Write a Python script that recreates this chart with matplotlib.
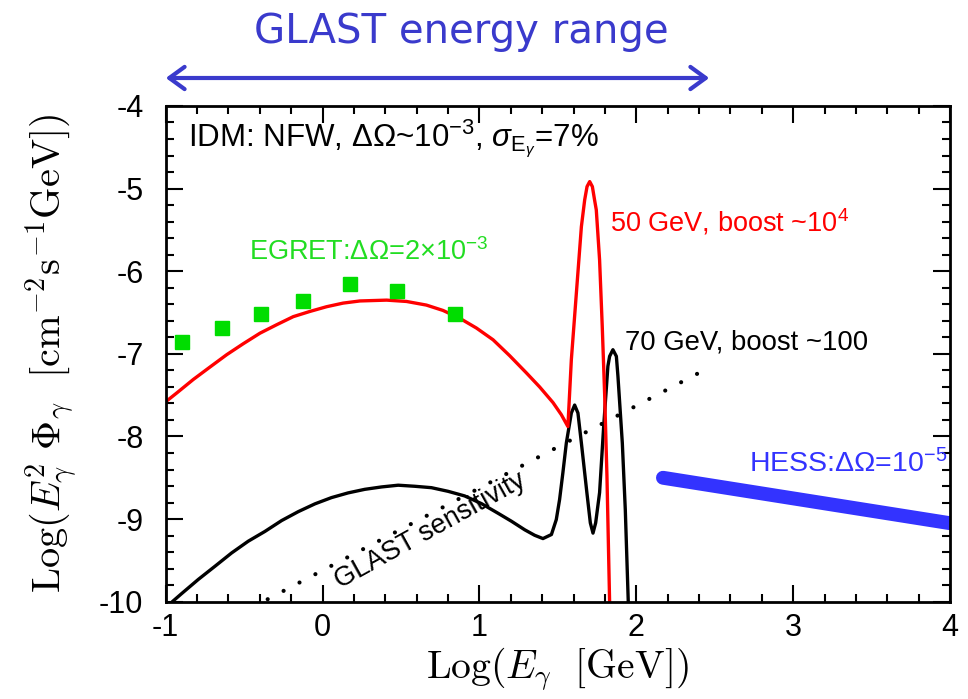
import matplotlib
matplotlib.use("Agg")
import matplotlib.pyplot as plt
from matplotlib.ticker import MultipleLocator
from matplotlib.patches import FancyArrowPatch

plt.rcParams['mathtext.fontset'] = 'custom'
plt.rcParams['mathtext.rm'] = 'Liberation Sans'
plt.rcParams['mathtext.sf'] = 'Liberation Sans'
plt.rcParams['mathtext.it'] = 'Liberation Sans:italic'
plt.rcParams['mathtext.bf'] = 'Liberation Sans:bold'

# ---------------- data ----------------
red_x = [-1.0, -0.930, -0.824, -0.718, -0.611, -0.506, -0.399, -0.293, -0.187, -0.081,
         0.025, 0.131, 0.238, 0.408, 0.535, 0.662, 0.768, 0.875, 0.981, 1.087,
         1.193, 1.299, 1.384, 1.469, 1.522, 1.564,
         1.586, 1.618, 1.650, 1.671, 1.686, 1.703, 1.720, 1.734, 1.745, 1.766,
         1.783, 1.798, 1.813, 1.830]
red_y = [-7.58, -7.474, -7.31, -7.16, -7.01, -6.878, -6.75, -6.648, -6.55, -6.487,
         -6.43, -6.386, -6.36, -6.35, -6.366, -6.41, -6.475, -6.57, -6.688, -6.83,
         -7.023, -7.23, -7.401, -7.59, -7.736, -7.88,
         -7.07, -6.265, -5.46, -5.137, -4.976, -4.915, -4.976, -5.137, -5.258, -5.862,
         -6.668, -7.474, -8.48, -10.01]

black_x = [-0.952, -0.898, -0.792, -0.686, -0.580, -0.474, -0.368, -0.261, -0.155, -0.049,
           0.057, 0.163, 0.269, 0.376, 0.482, 0.588, 0.694, 0.800, 0.906, 1.013,
           1.119, 1.204, 1.289, 1.352, 1.405, 1.459, 1.490, 1.511, 1.532, 1.554,
           1.586, 1.607, 1.628, 1.650, 1.685, 1.707, 1.724, 1.741, 1.766, 1.792,
           1.819, 1.830, 1.851, 1.873, 1.883, 1.911, 1.930, 1.949]
black_y = [-9.99, -9.901, -9.73, -9.571, -9.41, -9.268, -9.15, -9.018, -8.91, -8.816,
           -8.74, -8.683, -8.64, -8.611, -8.59, -8.603, -8.62, -8.664, -8.72, -8.813,
           -8.93, -9.026, -9.13, -9.196, -9.236, -9.187, -9.006, -8.764, -8.44, -8.08,
           -7.716, -7.62, -7.716, -8.08, -8.68, -9.046, -9.17, -9.046, -8.68, -7.88,
           -7.15, -7.03, -6.95, -7.03, -7.27, -8.08, -8.89, -10.01]

egret_x = [-0.898, -0.643, -0.393, -0.124, 0.178, 0.475, 0.843]
egret_y = [-6.86, -6.69, -6.52, -6.36, -6.16, -6.24, -6.52]

sens_x = [-0.35, 2.41]
sens_y = [-9.97, -7.22]

hess_x = [2.17, 4.0]
hess_y = [-8.50, -9.05]

xticks = [-1, 0, 1, 2, 3, 4]
yticks = [-10, -9, -8, -7, -6, -5, -4]

# ---------------- figure ----------------
fig = plt.figure(figsize=(9.68, 6.99), dpi=100)
ax = fig.add_axes([0.1712, 0.1392, 0.8102, 0.7092])

ax.plot(sens_x, sens_y, color='black', lw=3.0, linestyle=(0, (0.01, 4.3)),
        dash_capstyle='round')
ax.plot(black_x, black_y, color='black', lw=2.4, solid_joinstyle='round')
ax.plot(red_x, red_y, color='#ff0000', lw=2.4, solid_joinstyle='round')
ax.plot(egret_x, egret_y, linestyle='none', marker='s', ms=9.5,
        color='#00dd00', mec='#00dd00')
ax.plot(hess_x, hess_y, color='#3333ff', lw=10, solid_capstyle='round')

ax.set_xlim(-1, 4)
ax.set_ylim(-10, -4)
ax.set_xticks(xticks)
ax.set_yticks(yticks)
ax.set_xticklabels([str(t) for t in xticks])
ax.set_yticklabels([str(t) for t in yticks])
ax.xaxis.set_minor_locator(MultipleLocator(0.2))
ax.yaxis.set_minor_locator(MultipleLocator(0.2))
ax.tick_params(which='both', direction='in', top=True, right=True, width=1.5)
ax.tick_params(which='major', length=12, labelsize=22)
ax.tick_params(axis='x', which='major', pad=8)
ax.tick_params(axis='y', which='major', pad=16)
ax.tick_params(which='minor', length=6)
for lab in ax.get_xticklabels() + ax.get_yticklabels():
    lab.set_fontfamily('Liberation Sans')
for s in ax.spines.values():
    s.set_linewidth(2)

ax.set_xlabel(r'$\mathrm{Log}(E_\gamma\ \ [\mathrm{GeV}])$', fontsize=28.5, labelpad=2,
              math_fontfamily='cm')
ax.set_ylabel(r'$\mathrm{Log}(E_\gamma^2\ \Phi_\gamma\ \ [\mathrm{cm}^{-2}\mathrm{s}^{-1}\mathrm{GeV}])$',
              fontsize=29, labelpad=14, math_fontfamily='cm')

sans = 'Liberation Sans'
ax.text(-0.855, -4.40, r'IDM: NFW, $\Delta\Omega$~10$^{-3}$, $\sigma_{\mathrm{E}_\gamma}$=7%',
        fontsize=22.5, family=sans, va='center', ha='left')
ax.text(-0.47, -5.77, r'EGRET:$\Delta\Omega$=2$\times$10$^{-3}$',
        fontsize=19.5, family=sans, color='#22dd22', va='center', ha='left')
ax.text(1.83, -5.40, r'50 GeV, boost ~10$^{4}$',
        fontsize=19.5, family=sans, color='#ff0000', va='center', ha='left')
ax.text(1.93, -6.86, '70 GeV, boost ~100',
        fontsize=19.8, family=sans, color='black', va='center', ha='left')
ax.text(3.98, -8.33, r'HESS:$\Delta\Omega$=10$^{-5}$',
        fontsize=20.5, family=sans, color='#3333ff', va='center', ha='right')
ax.text(0.69, -9.14, 'GLAST sensitivity', fontsize=19.5, family=sans,
        rotation=29, va='center', ha='center', rotation_mode='anchor')

fig.text(0.477, 0.954, 'GLAST energy range', fontsize=29, color='#3a3acc',
         ha='center', va='center')
fig.add_artist(FancyArrowPatch(
    (163 / 968, 1 - 78 / 699), (712 / 968, 1 - 78 / 699),
    transform=fig.transFigure, arrowstyle='<->,head_length=11,head_width=8',
    color='#3a3acc', lw=3, mutation_scale=1))

fig.savefig('out.png', dpi=100)
